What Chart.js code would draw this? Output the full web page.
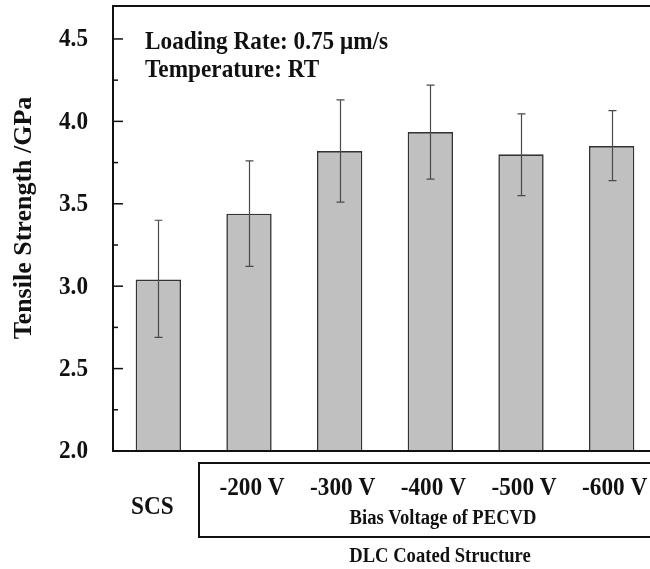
<!DOCTYPE html>
<html>
<head>
<meta charset="utf-8">
<script src="https://cdn.jsdelivr.net/npm/chart.js@4"></script>
<style>
html,body{margin:0;padding:0;background:#fff;overflow:hidden;}
#wrap{width:650px;height:569px;overflow:hidden;position:relative;}
canvas{display:block;}
</style>
</head>
<body>
<div id="wrap"><canvas id="c" width="662" height="569"></canvas></div>
<script>
const categories = ['SCS', '-200 V', '-300 V', '-400 V', '-500 V', '-600 V'];
const strength = [3.04, 3.44, 3.82, 3.935, 3.80, 3.85];
const errLow = [2.69, 3.12, 3.51, 3.65, 3.55, 3.64];
const errHigh = [3.40, 3.76, 4.13, 4.22, 4.045, 4.065];
const yTickLabels = ['2.0', '2.5', '3.0', '3.5', '4.0', '4.5'];
const yMinorTicks = [2.25, 2.75, 3.25, 3.75, 4.25];
const annotationLines = ['Loading Rate: 0.75 \u03bcm/s', 'Temperature: RT'];
const yTitle = 'Tensile Strength /GPa';
const groupLabel = 'Bias Voltage of PECVD';
const outerLabel = 'DLC Coated Structure';

const SERIF = '"Liberation Serif", "Times New Roman", serif';
const SX = 0.93;

function txt(ctx, s, x, y, size, align, base) {
  ctx.save();
  ctx.translate(x, y);
  ctx.scale(SX, 1);
  ctx.font = 'bold ' + size + 'px ' + SERIF;
  ctx.textAlign = align;
  ctx.textBaseline = base;
  ctx.fillText(s, 0, 0);
  ctx.restore();
}

const deco = {
  id: 'deco',
  afterDatasetsDraw(chart) {
    const ctx = chart.ctx;
    const a = chart.chartArea;
    const xs = chart.scales.x, ys = chart.scales.y;
    ctx.save();
    // error bars
    ctx.strokeStyle = '#4a4a4a';
    ctx.lineWidth = 1.2;
    for (let i = 0; i < categories.length; i++) {
      const x = Math.round(xs.getPixelForValue(i)) + 0.5;
      const yl = ys.getPixelForValue(errLow[i]);
      const yh = ys.getPixelForValue(errHigh[i]);
      ctx.beginPath();
      ctx.moveTo(x, yl); ctx.lineTo(x, yh);
      ctx.moveTo(x - 4, yl); ctx.lineTo(x + 4, yl);
      ctx.moveTo(x - 4, yh); ctx.lineTo(x + 4, yh);
      ctx.stroke();
    }
    // frame
    ctx.strokeStyle = '#111';
    ctx.lineWidth = 2;
    ctx.strokeRect(a.left, a.top, a.right - a.left, a.bottom - a.top);
    // y ticks (inward)
    ctx.lineWidth = 1.5;
    yTickLabels.forEach(t => {
      const y = ys.getPixelForValue(parseFloat(t));
      ctx.beginPath(); ctx.moveTo(a.left, y); ctx.lineTo(a.left + 10, y); ctx.stroke();
    });
    yMinorTicks.forEach(v => {
      const y = ys.getPixelForValue(v);
      ctx.beginPath(); ctx.moveTo(a.left, y); ctx.lineTo(a.left + 5, y); ctx.stroke();
    });
    ctx.fillStyle = '#111';
    // tick labels
    yTickLabels.forEach(t => {
      const y = ys.getPixelForValue(parseFloat(t));
      txt(ctx, t, a.left - 25, y + 1, 25, 'right', 'middle');
    });
    // y title
    ctx.save();
    ctx.translate(25, 218);
    ctx.rotate(-Math.PI / 2);
    ctx.scale(1, SX);
    ctx.textAlign = 'center';
    ctx.textBaseline = 'middle';
    ctx.font = 'bold 26px ' + SERIF;
    ctx.fillText(yTitle, 0, 0);
    ctx.restore();
    // annotation
    txt(ctx, annotationLines[0], 145, 49, 25, 'left', 'alphabetic');
    txt(ctx, annotationLines[1], 145, 77, 25, 'left', 'alphabetic');
    // category labels
    for (let i = 0; i < categories.length; i++) {
      const x = xs.getPixelForValue(i);
      if (i === 0) txt(ctx, categories[i], x - 6, 508, 25, 'center', 'middle');
      else txt(ctx, categories[i], x + 3, 489, 25, 'center', 'middle');
    }
    // group box
    ctx.lineWidth = 2;
    ctx.strokeRect(199, 463, 600, 74);
    txt(ctx, groupLabel, 443, 519, 20, 'center', 'middle');
    txt(ctx, outerLabel, 440, 557, 20, 'center', 'middle');
    ctx.restore();
  }
};

new Chart(document.getElementById('c'), {
  type: 'bar',
  data: {
    labels: categories,
    datasets: [{
      data: strength,
      backgroundColor: '#c0c0c0',
      borderColor: '#333',
      borderWidth: 1.6,
      categoryPercentage: 1.0,
      barPercentage: 0.5
    }]
  },
  options: {
    responsive: false,
    animation: false,
    devicePixelRatio: 1,
    layout: { padding: { left: 113, top: 6, right: 5, bottom: 118 } },
    plugins: { legend: { display: false }, tooltip: { enabled: false } },
    scales: {
      x: { display: false },
      y: { display: false, min: 2.0, max: 4.7 }
    }
  },
  plugins: [deco]
});
</script>
</body>
</html>
